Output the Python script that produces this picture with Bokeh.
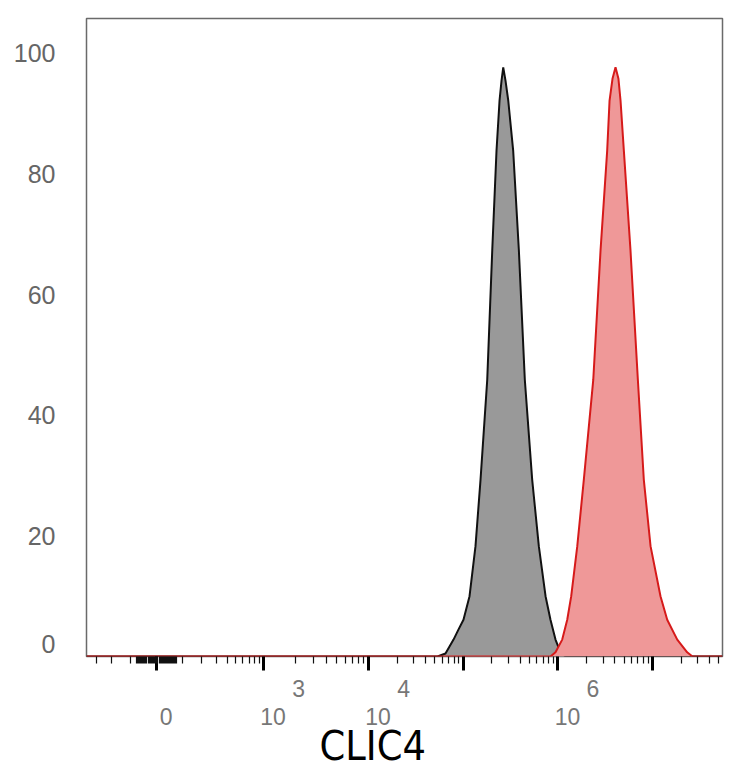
import numpy as np
from bokeh.plotting import figure
from bokeh.models import Range1d, FixedTicker, Title, CustomLabelingPolicy
from bokeh.embed import file_html
from bokeh.resources import INLINE

# ---- data (log10 fluorescence intensity, % of max) ----
gray_log10 = [4.729, 4.813, 4.898, 4.951, 5.003, 5.067, 5.130, 5.183, 5.254, 5.307,
              5.352, 5.384, 5.405, 5.423, 5.447, 5.476, 5.528, 5.588, 5.651, 5.729,
              5.799, 5.870, 5.922, 5.975, 6.028, 6.081]
gray_count = [0.0, 0.5, 2.8, 4.5, 6.1, 10.0, 18.3, 29.3, 45.9, 67.4,
              83.9, 92.2, 95.5, 97.7, 95.5, 92.2, 83.9, 67.4, 45.9, 29.3,
              18.3, 10.0, 6.1, 2.8, 0.7, 0.0]
red_log10 = [5.922, 5.975, 6.046, 6.099, 6.141, 6.205, 6.274, 6.374, 6.451, 6.521,
             6.546, 6.577, 6.609, 6.640, 6.662, 6.697, 6.767, 6.845, 6.908, 6.979,
             7.084, 7.155, 7.261, 7.366, 7.422]
red_count = [0.0, 0.7, 2.8, 6.1, 10.0, 18.3, 29.3, 45.9, 67.4, 83.9,
             92.2, 95.8, 97.7, 95.8, 92.2, 83.9, 67.4, 45.9, 29.3, 18.3,
             10.0, 6.1, 2.8, 0.7, 0.0]

y_ticks = [0, 20, 40, 60, 80, 100]
x_major_values = [0, 1e3, 1e4, 1e5, 1e6, 1e7]
x_major_base = ["0", "10", "10", "", "10", ""]
x_major_exp = ["", "3", "4", "", "6", ""]
x_minor_values = ([-300, -200, -100] + list(range(-75, 80, 4)) +
                  [100 * k for k in range(1, 10)] +
                  [m * 10.0 ** e for e in (3, 4, 5, 6) for m in range(2, 10)] +
                  [2e7, 3e7, 4e7, 5e7])
x_title = "CLIC4"


def axis_coord(v):
    """Biexponential-like display scale: log10 above 1e4, compressed decade
    1e3-1e4, arcsinh-linear region around zero."""
    v = np.atleast_1d(np.asarray(v, dtype=float))
    out = np.empty_like(v)
    hi = v >= 1e4
    mid = (v >= 1e3) & (v < 1e4)
    lo = v < 1e3
    out[hi] = np.log10(v[hi])
    out[mid] = 2.891 + (np.log10(v[mid]) - 3.0) * 1.109
    out[lo] = 1.761 + np.arcsinh(v[lo] / 148.9) / np.log(10)
    return out


X0, X1 = 1.0212, 7.739
Y0, Y1 = 0.0, 105.8
NB = "\u00a0"

p = figure(width=734, height=768, output_backend="svg", toolbar_location=None,
           x_range=Range1d(X0, X1), y_range=Range1d(Y0, Y1),
           min_border_left=86, min_border_right=12, min_border_top=18,
           min_border_bottom=112)
p.xgrid.visible = False
p.ygrid.visible = False
p.background_fill_color = "white"
p.border_fill_color = "white"
p.outline_line_color = "#6a6a6a"
p.outline_line_width = 1.5

# curves (extended to the frame edges with zero baseline)
gx = np.concatenate([[X0], axis_coord(10 ** np.array(gray_log10)), [X1]])
gy = np.concatenate([[0.0], gray_count, [0.0]])
rx = np.concatenate([[X0], axis_coord(10 ** np.array(red_log10)), [X1]])
ry = np.concatenate([[0.0], red_count, [0.0]])

p.varea(x=gx, y1=np.zeros_like(gy), y2=gy, fill_color="#999999")
p.line(gx, gy, line_color="#111111", line_width=2)
p.varea(x=rx, y1=np.zeros_like(ry), y2=ry, fill_color="#ef9898")
p.line(rx, ry, line_color="#d61a1a", line_width=2)

# y axis
ya = p.yaxis[0]
ya.ticker = FixedTicker(ticks=y_ticks)
ya.major_label_overrides = {0: "0\n" + NB}
ya.major_label_text_line_height = 0.9
ya.major_tick_out = 0
ya.major_tick_in = 0
ya.minor_tick_out = 0
ya.minor_tick_in = 0
ya.axis_line_color = None
ya.major_label_standoff = 31
ya.major_label_text_font = "Liberation Sans"
ya.major_label_text_font_size = "25px"
ya.major_label_text_color = "#666666"

# x axis: exponent on the first line, base on the second
major_pos = [float(c) for c in axis_coord(x_major_values)]
overrides = {}
keep = []
for i, (pos, base, ex) in enumerate(zip(major_pos, x_major_base, x_major_exp)):
    if not base:
        continue
    keep.append(i)
    line1 = (NB * 11 + ex) if ex else NB
    line2 = NB * 3 + base
    overrides[pos] = line1 + "\n" + line2

xa = p.xaxis[0]
xa.ticker = FixedTicker(ticks=major_pos,
                        minor_ticks=[float(c) for c in axis_coord(x_minor_values)])
xa.major_label_overrides = overrides
xa.major_label_policy = CustomLabelingPolicy(code="return %s" % keep)
xa.major_label_text_font = "Liberation Sans"
xa.major_label_text_font_size = "23px"
xa.major_label_text_color = "#777777"
xa.major_label_text_line_height = 1.08
xa.major_label_standoff = 5
xa.axis_line_color = None
xa.major_tick_in = 0
xa.major_tick_out = 14
xa.major_tick_line_width = 3
xa.major_tick_line_color = "black"
xa.minor_tick_in = 0
xa.minor_tick_out = 7
xa.minor_tick_line_width = 1.2
xa.minor_tick_line_color = "#111111"

p.add_layout(Title(text=x_title, align="left", offset=233, standoff=-26,
                   text_font="DejaVu Sans Condensed", text_font_size="41px",
                   text_font_style="normal", text_color="black"), "below")

open("out.html", "w").write(file_html(p, INLINE))
